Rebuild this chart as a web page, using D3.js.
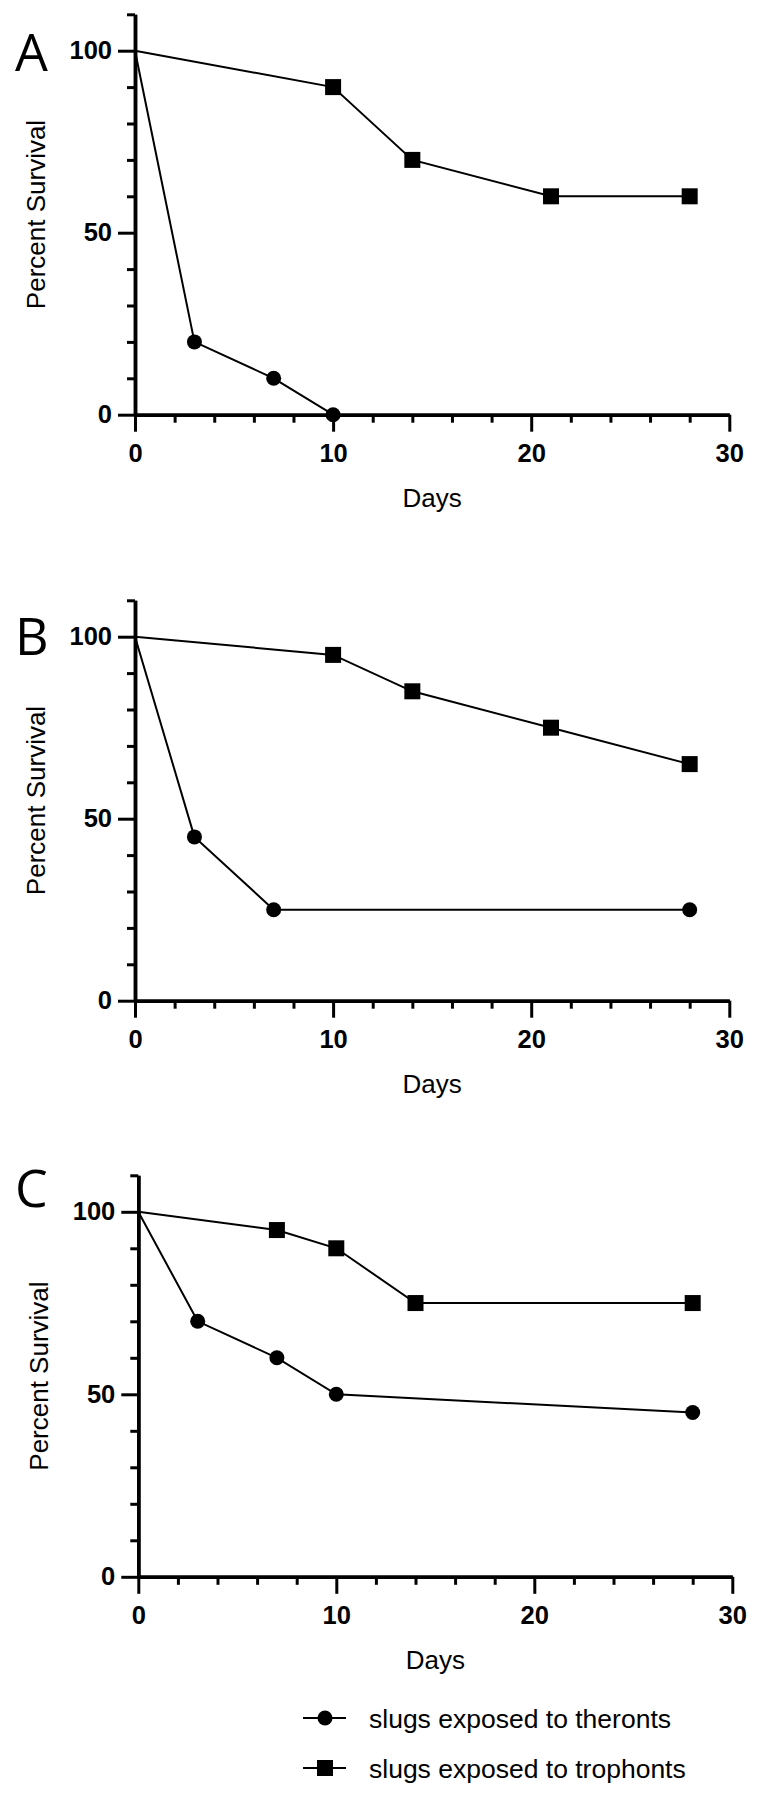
<!DOCTYPE html>
<html><head><meta charset="utf-8">
<script src="https://cdn.jsdelivr.net/npm/d3@7"></script>
<style>body{margin:0;background:#fff}svg{display:block}</style>
</head><body>
<svg id="chart" width="759" height="1796"></svg>
<script>
// ---- data ----
const panelLetters = ["A", "B", "C"];
const seriesNames = ["slugs exposed to theronts", "slugs exposed to trophonts"];

const daysA_theronts = [0, 3, 7, 10];
const survA_theronts = [100, 20, 10, 0];
const daysA_trophonts = [0, 10, 14, 21, 28];
const survA_trophonts = [100, 90, 70, 60, 60];

const daysB_theronts = [0, 3, 7, 28];
const survB_theronts = [100, 45, 25, 25];
const daysB_trophonts = [0, 10, 14, 21, 28];
const survB_trophonts = [100, 95, 85, 75, 65];

const daysC_theronts = [0, 3, 7, 10, 28];
const survC_theronts = [100, 70, 60, 50, 45];
const daysC_trophonts = [0, 7, 10, 14, 28];
const survC_trophonts = [100, 95, 90, 75, 75];

const xTicksMajor = [0, 10, 20, 30];
const xTicksMinor = [2, 4, 6, 8, 12, 14, 16, 18, 22, 24, 26, 28];
const yTicksMajor = [0, 50, 100];
const yTicksMinor = [10, 20, 30, 40, 60, 70, 80, 90, 110];
const xTitle = "Days";
const yTitle = "Percent Survival";

const panels = [
  {letter: panelLetters[0], th: [daysA_theronts, survA_theronts], tr: [daysA_trophonts, survA_trophonts]},
  {letter: panelLetters[1], th: [daysB_theronts, survB_theronts], tr: [daysB_trophonts, survB_trophonts]},
  {letter: panelLetters[2], th: [daysC_theronts, survC_theronts], tr: [daysC_trophonts, survC_trophonts]}
];

// ---- layout ----
const layouts = [
  {x0: 135, x1: 729.3, y0: 414.7, y100: 50.7, letterY: 71},
  {x0: 135, x1: 729.3, y0: 1000.7, y100: 636.7, letterY: 655},
  {x0: 138.3, x1: 732.3, y0: 1576.8, y100: 1211.8, letterY: 1207}
];
const tickFont = "'Liberation Sans', Arial, sans-serif";
const svg = d3.select("#chart");
svg.append("rect").attr("width", 759).attr("height", 1796).attr("fill", "#fff");

const zip = (a, b) => a.map((d, i) => ({x: d, y: b[i]}));

function styleAxis(sel, fs) {
  sel.select(".domain").attr("stroke", "#000").attr("stroke-width", 3.5);
  sel.selectAll(".tick line").attr("stroke", "#000").attr("stroke-width", 3);
  sel.selectAll(".tick text").attr("fill", "#000")
    .style("font-family", tickFont).style("font-weight", "bold").style("font-size", fs + "px");
}

panels.forEach((p, i) => {
  const L = layouts[i];
  const x = d3.scaleLinear().domain([0, 30]).range([L.x0, L.x1]);
  const y = d3.scaleLinear().domain([0, 100]).range([L.y0, L.y100]);
  const yAxisScale = d3.scaleLinear().domain([0, 110]).range([L.y0, y(110)]);
  const g = svg.append("g");

  // x axis minor
  g.append("g").attr("transform", `translate(0,${L.y0})`)
    .call(d3.axisBottom(x).tickValues(xTicksMinor).tickSize(8).tickSizeOuter(0).tickFormat(""))
    .call(s => { styleAxis(s, 25); });
  // x axis major
  g.append("g").attr("transform", `translate(0,${L.y0})`)
    .call(d3.axisBottom(x).tickValues(xTicksMajor).tickSize(17).tickSizeOuter(0).tickPadding(12))
    .call(s => { styleAxis(s, 25.5); });
  // y axis minor
  g.append("g").attr("transform", `translate(${L.x0},0)`)
    .call(d3.axisLeft(yAxisScale).tickValues(yTicksMinor).tickSize(8).tickSizeOuter(0).tickFormat(""))
    .call(s => { styleAxis(s, 25); });
  // y axis major
  g.append("g").attr("transform", `translate(${L.x0},0)`)
    .call(d3.axisLeft(yAxisScale).tickValues(yTicksMajor).tickSize(17).tickSizeOuter(0).tickPadding(6))
    .call(s => { styleAxis(s, 25.5); });

  // titles
  const yMid = (L.y0 + y(110)) / 2;
  g.append("text").attr("transform", `translate(${L.x0 - 90},${yMid}) rotate(-90)`)
    .attr("text-anchor", "middle").style("font-family", tickFont).style("font-size", "26px")
    .text(yTitle);
  g.append("text").attr("x", (L.x0 + L.x1) / 2).attr("y", L.y0 + 92)
    .attr("text-anchor", "middle").style("font-family", tickFont).style("font-size", "26px")
    .text(xTitle);
  g.append("text").attr("x", 15).attr("y", L.letterY)
    .style("font-family", "'Open Sans', sans-serif").style("font-size", "52px")
    .text(p.letter);

  const line = d3.line().x(d => x(d.x)).y(d => y(d.y));
  const th = zip(p.th[0], p.th[1]);
  const tr = zip(p.tr[0], p.tr[1]);
  [th, tr].forEach(data => {
    g.append("path").datum(data).attr("d", line)
      .attr("fill", "none").attr("stroke", "#000").attr("stroke-width", 2);
  });
  g.selectAll(".mc").data(th.filter(d => d.x > 0)).join("circle")
    .attr("cx", d => x(d.x)).attr("cy", d => y(d.y)).attr("r", 7.5).attr("fill", "#000");
  g.selectAll(".ms").data(tr.filter(d => d.x > 0)).join("rect")
    .attr("x", d => x(d.x) - 8).attr("y", d => y(d.y) - 8)
    .attr("width", 16).attr("height", 16).attr("fill", "#000");
});

// legend
const legendRows = [1718, 1768];
seriesNames.forEach((name, i) => {
  const ly = legendRows[i];
  const lg = svg.append("g");
  lg.append("line").attr("x1", 303).attr("x2", 346).attr("y1", ly).attr("y2", ly)
    .attr("stroke", "#000").attr("stroke-width", 2);
  if (i === 0) {
    lg.append("circle").attr("cx", 325).attr("cy", ly).attr("r", 7.5).attr("fill", "#000");
  } else {
    lg.append("rect").attr("x", 317).attr("y", ly - 8).attr("width", 16).attr("height", 16).attr("fill", "#000");
  }
  lg.append("text").attr("x", 369).attr("y", ly + 9.5)
    .style("font-family", tickFont).style("font-size", "26.5px").text(name);
});
</script>
</body></html>
